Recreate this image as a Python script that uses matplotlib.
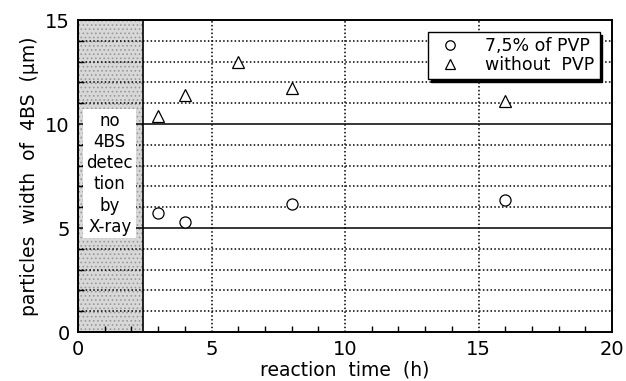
import matplotlib
matplotlib.use("Agg")
import matplotlib.pyplot as plt
from matplotlib.patches import Rectangle
from matplotlib.ticker import MultipleLocator

# reaction time (h) vs particle width (um)
time_pvp = [3, 4, 8, 16]
width_pvp = [5.72, 5.29, 6.15, 6.35]
time_nopvp = [3, 4, 6, 8, 16]
width_nopvp = [10.38, 11.4, 12.98, 11.73, 11.1]
no_detect_end = 2.43

plt.rcParams['font.family'] = ['DejaVu Sans']
plt.rcParams['font.size'] = 12
plt.rcParams['hatch.linewidth'] = 0.7

fig = plt.figure(figsize=(6.26, 3.81), dpi=100)
ax = fig.add_axes([78 / 626, 1 - 332 / 381, (612 - 78) / 626, (332 - 20) / 381])

ax.set_xlim(0, 20)
ax.set_ylim(0, 15)

# grey band where nothing was detected
ax.add_patch(Rectangle((0, 0), no_detect_end, 15, facecolor='#d8d8d8',
                       edgecolor='#9a9a9a', hatch='....', linewidth=0, zorder=1))
ax.add_patch(Rectangle((0, 0), no_detect_end, 15, facecolor='none',
                       edgecolor='black', linewidth=1.2, zorder=3))

for y in range(1, 15):
    if y % 5 == 0:
        ax.axhline(y, color='black', linewidth=1.1, zorder=2)
    else:
        ax.axhline(y, color='black', linestyle=(0, (1, 1.5)), linewidth=1.1, zorder=2)
for x in [5, 10, 15]:
    ax.axvline(x, color='black', linestyle=(0, (1, 1.5)), linewidth=1.1, zorder=2)

ax.text(no_detect_end / 2 - 0.03, 7.6, "no\n4BS\ndetec\ntion\nby\nX-ray", ha='center', va='center',
        fontsize=12, linespacing=1.22, zorder=4,
        bbox=dict(facecolor='white', edgecolor='none', pad=2))

ax.plot(time_pvp, width_pvp, linestyle='none', marker='o', markersize=8,
        markerfacecolor='white', markeredgecolor='black', markeredgewidth=0.9,
        label='7,5% of PVP', zorder=5)
ax.plot(time_nopvp, width_nopvp, linestyle='none', marker='^', markersize=8,
        markerfacecolor='white', markeredgecolor='black', markeredgewidth=0.9,
        label='without  PVP', zorder=5)

leg = ax.legend(loc='upper right', bbox_to_anchor=(0.993, 0.99), fancybox=False,
                shadow={'color': 'black', 'alpha': 1.0, 'ox': 2, 'oy': -2}, framealpha=1.0,
                edgecolor='black', fontsize=12.5, handletextpad=1.0,
                borderpad=0.3, labelspacing=0.05, markerscale=0.85)
leg.get_frame().set_linewidth(1.0)
leg.set_zorder(6)

ax.xaxis.set_major_locator(MultipleLocator(5))
ax.xaxis.set_minor_locator(MultipleLocator(1))
ax.yaxis.set_major_locator(MultipleLocator(5))
ax.yaxis.set_minor_locator(MultipleLocator(1))
ax.tick_params(which='both', direction='in', top=False, right=False)
ax.tick_params(which='major', length=0, labelsize=14, pad=6)
ax.tick_params(which='minor', length=4, width=1.0)
for s in ax.spines.values():
    s.set_linewidth(1.4)

ax.set_xlabel("reaction  time  (h)", fontsize=13.5, labelpad=1)
ax.set_ylabel("particles  width  of  4BS  (\u03bcm)", fontsize=13.5)

fig.savefig("out.png", dpi=100)
